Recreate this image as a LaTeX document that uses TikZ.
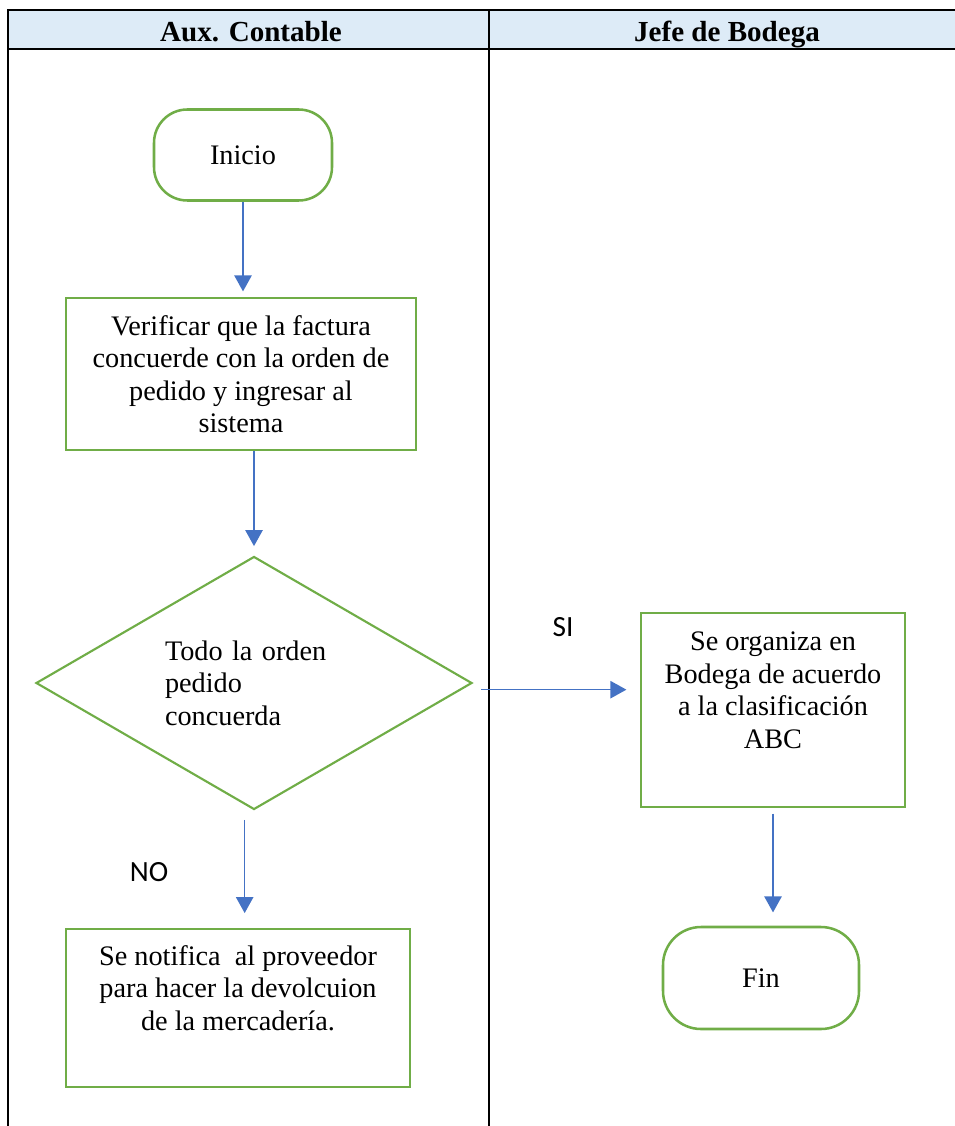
\documentclass[tikz,border=0pt]{standalone}
\usepackage{fontspec}
\setmainfont{Liberation Serif}
\newfontfamily\calibri{Carlito}
\usetikzlibrary{arrows.meta,shapes.geometric}
\definecolor{laneBlue}{HTML}{DDEBF7}
\definecolor{boxGreen}{HTML}{70AD47}
\definecolor{arrowBlue}{HTML}{4472C4}
\newcommand{\liftup}[2]{\raisebox{#1}[0pt][0pt]{\begin{tabular}{@{}c@{}}#2\end{tabular}}}

\begin{document}
\begin{tikzpicture}[x=0.75pt, y=-0.75pt, font=\fontsize{21.2}{24.4}\selectfont,
  term/.style={draw=boxGreen, line width=1.9pt, rounded corners=25pt, inner sep=0pt},
  proc/.style={draw=boxGreen, line width=1.9pt, align=center, inner sep=0pt},
  dec/.style={diamond, draw=boxGreen, line width=1.6pt, align=left, inner sep=0pt},
  e/.style={-{Triangle[length=12pt,width=13pt]}, line width=1.1pt, arrowBlue},
  lane/.style={line width=1.9pt},
  ttl/.style={font=\fontsize{21.8}{26}\selectfont\bfseries, anchor=base},
  lbl/.style={font=\calibri\fontsize{22}{26}\selectfont}]
\useasboundingbox (0,0) rectangle (954,1126);

% carriles
\draw[lane, fill=laneBlue] (8,10) rectangle (962,49);
\draw[lane] (8,10) -- (8,1130);
\draw[lane] (489,10) -- (489,1130);
\node[ttl] (hAux) at (251,41.5) {Aux. Contable};
\node[ttl] (hJefe) at (727,41.5) {Jefe de Bodega};

% pasos
\node[term, minimum width=133.5pt, minimum height=68.25pt] (inicio) at (243,155) {Inicio};
\node[proc, minimum width=262.5pt, minimum height=114pt] (verif) at (241,374) {Verificar que la factura\\concuerde con la orden de\\pedido y ingresar al\\sistema};
\node[dec, aspect=1.72, text width=133.5pt, minimum width=327pt, minimum height=189.75pt] (cond) at (254,683) {Todo la orden\\pedido\\concuerda};
\node[proc, minimum width=258pt, minimum height=118.5pt] (notif) at (238,1008) {\liftup{7.5pt}{Se notifica\ \ al proveedor\\para hacer la devolcuion\\de la mercadería.}};
\node[proc, minimum width=198pt, minimum height=145.5pt] (organ) at (773,710) {\liftup{7.5pt}{Se organiza en\\Bodega de acuerdo\\a la clasificación\\ABC}};
\node[term, rounded corners=28.5pt, minimum width=147pt, minimum height=76.5pt] (fin) at (761,978) {Fin};

\node[lbl] (lblSi) at (563,627) {SI};
\node[lbl] (lblNo) at (149,872) {NO};

% flechas
\draw[e, shorten >=4pt] (inicio.south) -- (inicio.south |- verif.north);
\draw[e, shorten >=7pt] (verif.south -| cond.north) -- (cond.north);
\draw[e, shorten <=7pt, shorten >=11pt] ([xshift=-7pt]cond.south) -- ([xshift=-7pt]cond.south |- notif.north);
\draw[e, shorten <=6pt, shorten >=10pt] ([yshift=-5pt]cond.east) -- ([yshift=-5pt]cond.east -| organ.west);
\draw[e, shorten <=4pt, shorten >=10pt] (organ.south) -- (organ.south |- fin.north);
\end{tikzpicture}
\end{document}
